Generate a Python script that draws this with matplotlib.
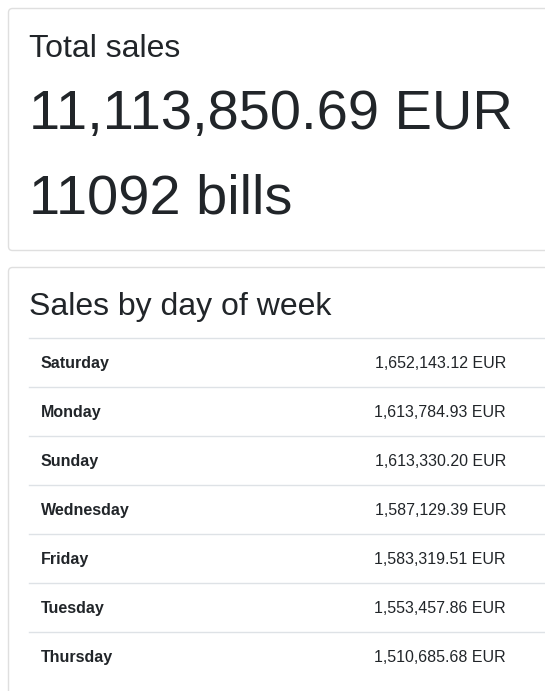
import matplotlib.pyplot as plt
from matplotlib.patches import FancyBboxPatch

plt.rcParams['font.family'] = ['Liberation Sans', 'DejaVu Sans']

total_sales = 11113850.69
bill_count = 11092
days = ['Saturday', 'Monday', 'Sunday', 'Wednesday', 'Friday', 'Tuesday', 'Thursday']
day_sales = [1652143.12, 1613784.93, 1613330.20, 1587129.39, 1583319.51, 1553457.86, 1510685.68]

W, H = 545, 691
txt = '#212529'
border = '#dfdfdf'

fig = plt.figure(figsize=(W / 100, H / 100), dpi=100)
ax = fig.add_axes([0, 0, 1, 1])
ax.set_xlim(0, W)
ax.set_ylim(H, 0)
ax.axis('off')

# cards
for y0, y1 in [(8, 250), (267, 720)]:
    ax.add_patch(FancyBboxPatch((8.5, y0 + 0.5), 560, y1 - y0,
                                boxstyle='round,pad=0,rounding_size=4',
                                fc='white', ec=border, lw=1))

ax.text(29, 49, 'Total sales', fontsize=23, color=txt, va='center')
ax.text(29, 115, f'{total_sales:,.2f} EUR', fontsize=40.3, color=txt, va='center')
ax.text(29, 199, f'{bill_count} bills', fontsize=40.3, color=txt, va='center')

ax.text(29, 307, 'Sales by day of week', fontsize=23, color=txt, va='center')

row_h = 49
top = 338
for i, (d, v) in enumerate(zip(days, day_sales)):
    y = top + i * row_h
    ax.plot([29, W], [y, y], color='#dee2e6', lw=1)
    ax.text(41, y + row_h / 2 + 1, d, fontsize=11.5, fontweight='bold', color=txt, va='center')
    ax.text(506, y + row_h / 2 + 1, f'{v:,.2f} EUR', fontsize=11.5, color=txt, va='center', ha='right')

fig.savefig('out.png', dpi=100)
